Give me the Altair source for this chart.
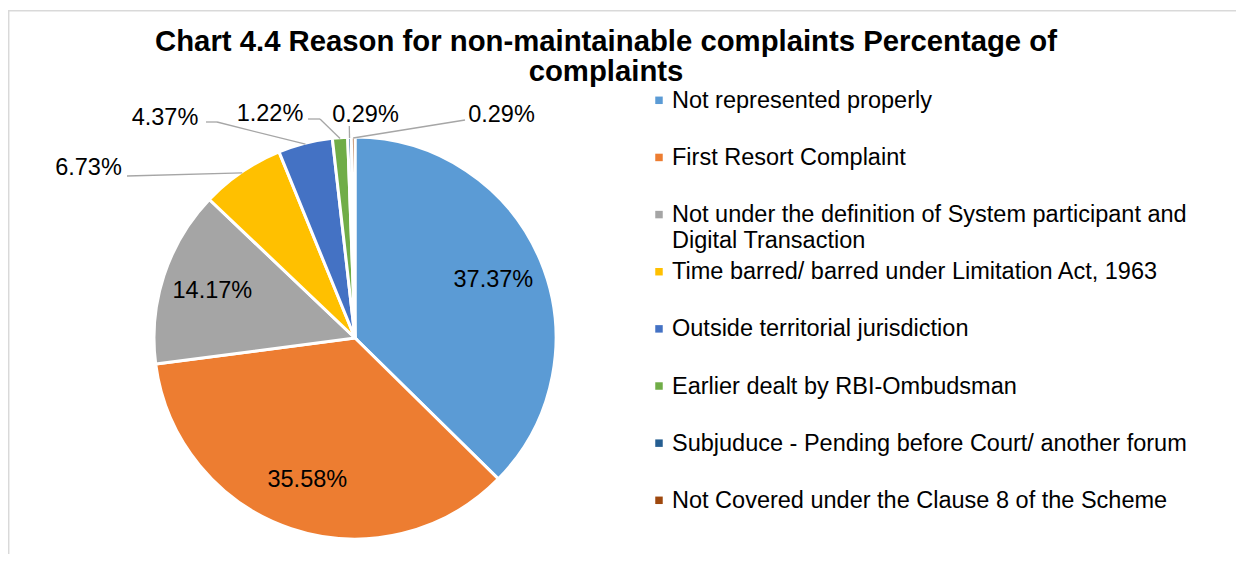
import altair as alt
import pandas as pd

# ---------------- data ----------------
categories = [
    "Not represented properly",
    "First Resort Complaint",
    "Not under the definition of System participant and Digital Transaction",
    "Time barred/ barred under Limitation Act, 1963",
    "Outside territorial jurisdiction",
    "Earlier dealt by RBI-Ombudsman",
    "Subjuduce - Pending before Court/ another forum",
    "Not Covered under the Clause 8 of the Scheme",
]
percentages = [37.37, 35.58, 14.17, 6.73, 4.37, 1.22, 0.29, 0.29]
colors = ["#5B9BD5", "#ED7D31", "#A5A5A5", "#FFC000", "#4472C4", "#70AD47", "#255E91", "#9E480E"]
title_text = "Chart 4.4 Reason for non-maintainable complaints Percentage of\ncomplaints"

# ---------------- layout (chart pixels) ----------------
W, H = 1228, 546
CX, CY, R = 347, 330, 201
FONT = "Liberation Sans"
LABEL_SIZE = 23.5
# outside data labels: label centre (tx, ty), leader start (sx, sy), leader elbow (bx, by)
outside_layout = pd.DataFrame({
    "category": categories[3:],
    "tx": [80.5, 157, 262, 357.5, 493.5],
    "ty": [160, 109.5, 105.5, 107, 107],
    "sx": [119, 198, 300, 341.3, 457],
    "sy": [168, 114, 111, 118, 112],
    "bx": [119, 209, 312, 341.3, 457],
    "by": [168, 114, 111, 118, 112],
})

df = pd.DataFrame({"category": categories, "pct": percentages, "idx": list(range(len(categories)))})
df["label"] = df["category"].str.replace(" and ", " and\n", regex=False)

color_scale = alt.Scale(domain=categories, range=colors)

# ---------------- pie ----------------
pie = alt.Chart(df).mark_arc(radius=R, stroke="white", strokeWidth=3).encode(
    theta=alt.Theta("pct:Q", stack=True),
    color=alt.Color("category:N", scale=color_scale, legend=None),
    order=alt.Order("idx:Q"),
    x=alt.value(CX),
    y=alt.value(CY),
)

inside = alt.Chart(df).transform_calculate(
    lab="datum.pct > 10 ? format(datum.pct, '.2f') + '%' : ''"
).mark_text(radius=150, fontSize=LABEL_SIZE, font=FONT, color="#000000").encode(
    theta=alt.Theta("pct:Q", stack=True),
    order=alt.Order("idx:Q"),
    text="lab:N",
    x=alt.value(CX),
    y=alt.value(CY),
)

# ---------------- leader lines + outside labels ----------------
lead_base = alt.Chart(df).transform_window(
    cum="sum(pct)", sort=[alt.SortField("idx")]
).transform_joinaggregate(
    total="sum(pct)"
).transform_calculate(
    ang="2*PI*(datum.cum - datum.pct/2)/datum.total",
    ex=f"{CX} + {R - 1}*sin(datum.ang)",
    ey=f"{CY} - {R - 1}*cos(datum.ang)",
    lab="format(datum.pct, '.2f') + '%'",
).transform_lookup(
    lookup="category",
    from_=alt.LookupData(outside_layout, "category", ["tx", "ty", "sx", "sy", "bx", "by"]),
).transform_filter("isValid(datum.tx)")

seg1 = lead_base.mark_rule(color="#A6A6A6", strokeWidth=1.3).encode(
    x=alt.X("sx:Q", scale=None), y=alt.Y("sy:Q", scale=None),
    x2="bx:Q", y2="by:Q",
)
seg2 = lead_base.mark_rule(color="#A6A6A6", strokeWidth=1.3).encode(
    x=alt.X("bx:Q", scale=None), y=alt.Y("by:Q", scale=None),
    x2="ex:Q", y2="ey:Q",
)
out_labels = lead_base.mark_text(fontSize=LABEL_SIZE, font=FONT, color="#000000").encode(
    x=alt.X("tx:Q", scale=None), y=alt.Y("ty:Q", scale=None), text="lab:N",
)

# ---------------- legend ----------------
leg_y = alt.Y("idx:Q", scale=alt.Scale(domain=[0, 7], range=[92.3, 492.3]), axis=None)
leg_sq = alt.Chart(df).mark_square(size=56, opacity=1).encode(
    x=alt.value(651), y=leg_y,
    color=alt.Color("category:N", scale=color_scale, legend=None),
)
leg_tx = alt.Chart(df).mark_text(
    align="left", baseline="top", dy=-11.5, fontSize=LABEL_SIZE, font=FONT,
    color="#000000", lineBreak="\n", lineHeight=26,
).encode(x=alt.value(664), y=leg_y, text="label:N")

# ---------------- title & frame ----------------
title = alt.Chart(pd.DataFrame({"t": [title_text]})).mark_text(
    align="center", baseline="top", fontSize=29.3, fontWeight="bold", font=FONT,
    color="#000000", lineBreak="\n", lineHeight=30,
).encode(x=alt.value(598), y=alt.value(19.5), text="t:N")

frame_top = alt.Chart(pd.DataFrame({"k": [0]})).mark_rule(color="#D9D9D9", strokeWidth=1.5).encode(
    x=alt.value(0), x2=alt.value(W), y=alt.value(2.7)
)
frame_left = alt.Chart(pd.DataFrame({"k": [0]})).mark_rule(color="#D9D9D9", strokeWidth=1.5).encode(
    x=alt.value(0.7), y=alt.value(2.7), y2=alt.value(H)
)

chart = alt.layer(
    frame_top, frame_left, pie, inside, seg1, seg2, out_labels, leg_sq, leg_tx, title
).resolve_scale(
    x="independent", y="independent"
).properties(
    width=W, height=H, padding=0, autosize=alt.AutoSizeParams(type="none"), background="white"
).configure_view(strokeWidth=0)

chart.save("out.html", embed_options={"renderer": "svg", "actions": False})
